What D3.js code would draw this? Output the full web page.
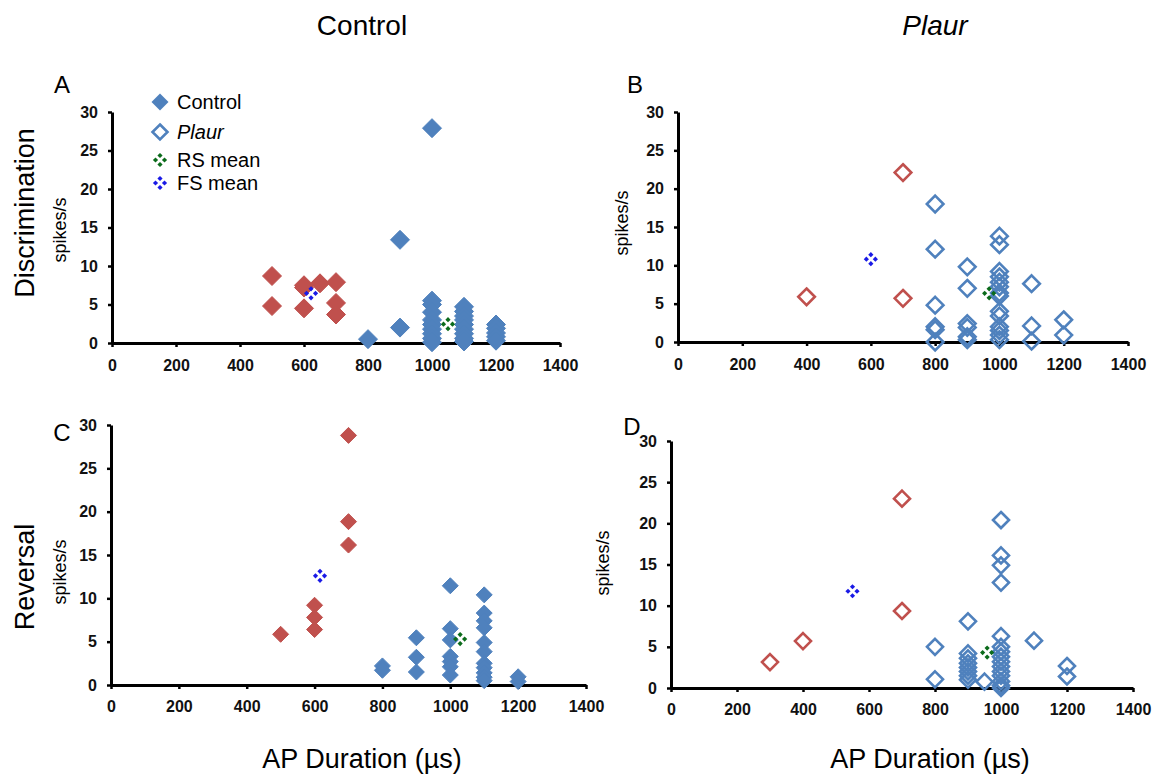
<!DOCTYPE html>
<html>
<head>
<meta charset="utf-8">
<script src="https://cdn.jsdelivr.net/npm/d3@7"></script>
<style>
  body { margin: 0; background: #fff; }
  text { font-family: "Liberation Sans", Arial, sans-serif; }
</style>
</head>
<body>
<div class="fig"></div>
<script>
// ---- data: [AP duration (µs), spikes/s] ----
// A: Control, Discrimination
const aFS = [[500,8.7],[500,4.8],[600,7.5],[600,7.2],[600,4.5],[650,7.75],[700,7.9],[700,5.2],[700,3.7]];
const aRS = [[800,0.5],[900,13.4],[900,2.0],[1000,27.9],[1000,5.5],[1000,5.0],[1000,4.0],[1000,3.0],[1000,2.4],
  [1000,1.8],[1000,1.2],[1000,0.6],[1000,0.1],[1100,4.7],[1100,4.1],[1100,3.5],[1100,3.0],[1100,2.4],[1100,1.8],
  [1100,1.2],[1100,0.6],[1100,0.2],[1200,2.4],[1200,1.9],[1200,1.3],[1200,0.8],[1200,0.3]];
const aMeanRS = [1050, 2.45], aMeanFS = [622, 6.45];

// B: Plaur, Discrimination
const bFS = [[400,5.9],[700,22.1],[700,5.7]];
const bRS = [[800,18],[800,12.1],[800,4.8],[800,2.0],[800,1.6],[800,0],[900,9.8],[900,7.0],[900,2.4],[900,1.9],
  [900,0.7],[900,0.3],[1000,13.8],[1000,12.7],[1000,9.2],[1000,8.5],[1000,7.8],[1000,7.2],[1000,6.4],[1000,6.0],
  [1000,4.0],[1000,3.4],[1000,2.0],[1000,1.5],[1000,0.9],[1000,0.3],[1100,7.6],[1100,2.1],[1100,0.1],[1200,2.9],[1200,0.9]];
const bMeanRS = [968, 6.35], bMeanFS = [600, 10.8];

// C: Control, Reversal
const cFS = [[500,5.85],[600,9.2],[600,7.8],[600,6.4],[700,28.8],[700,18.85],[700,16.15]];
const cRS = [[800,2.2],[800,1.7],[900,5.45],[900,3.2],[900,1.5],[1000,11.45],[1000,6.5],[1000,5.2],[1000,3.3],
  [1000,2.7],[1000,2.1],[1000,1.15],[1100,10.4],[1100,8.3],[1100,7.4],[1100,6.6],[1100,4.9],[1100,3.85],[1100,2.5],
  [1100,2.0],[1100,1.4],[1100,0.9],[1100,0.5],[1200,0.95],[1200,0.4]];
const cMeanRS = [1029, 5.3], cMeanFS = [616, 12.6];

// D: Plaur, Reversal
const dFS = [[300,3.15],[400,5.7],[700,23.0],[700,9.35]];
const dRS = [[800,5.0],[800,1.05],[900,8.1],[900,4.2],[900,3.6],[900,3.0],[900,2.5],[900,2.0],[900,1.5],[900,1.0],
  [950,0.77],[1000,20.4],[1000,16.1],[1000,14.9],[1000,12.8],[1000,6.3],[1000,5.0],[1000,4.4],[1000,3.8],[1000,3.2],
  [1000,2.6],[1000,2.0],[1000,1.5],[1000,0.8],[1000,0.3],[1000,0],[1100,5.75],[1200,2.67],[1200,1.4]];
const dMeanRS = [958, 4.3], dMeanFS = [550, 11.75];

const xTicks = [0,200,400,600,800,1000,1200,1400];
const yTicks = [0,5,10,15,20,25,30];
const legendLabels = ["Control", "Plaur", "RS mean", "FS mean"];

const BLUE = "#4f81bd", RED = "#c0504d", GREEN = "#0b6b1b", FSBLUE = "#1a1ae6";

const svg = d3.select(".fig").append("svg")
    .attr("width", 1161).attr("height", 777);

const diamond = r => `M0,${-r}L${r},0L0,${r}L${-r},0Z`;

function meanMark(g, x, y, color){
    const m = g.append("g").attr("transform", `translate(${x},${y})`);
    [[0,-4.5],[4.5,0],[0,4.5],[-4.5,0]].forEach(o => {
        m.append("path").attr("d", diamond(2.6))
            .attr("transform", `translate(${o[0]},${o[1]})`)
            .attr("fill", color);
    });
}

function panel(p){
    const g = svg.append("g");
    const x = d3.scaleLinear().domain([0,1400]).range([p.x0, p.x1]);
    const y = d3.scaleLinear().domain([0,30]).range([p.y1, p.y0]);

    const yAxis = g.append("g").attr("transform", `translate(${p.x0},0)`)
        .call(d3.axisLeft(y).tickValues(yTicks).tickFormat(d3.format("d"))
            .tickSize(4).tickPadding(10).tickSizeOuter(0));
    const xAxis = g.append("g").attr("transform", `translate(0,${p.y1})`)
        .call(d3.axisBottom(x).tickValues(xTicks).tickFormat(d3.format("d"))
            .tickSize(4).tickPadding(p.xPad).tickSizeOuter(0));
    [yAxis, xAxis].forEach(a => {
        a.select(".domain").attr("stroke", "#000").attr("stroke-width", 3);
        a.selectAll(".tick line").attr("stroke", "#000").attr("stroke-width", 2.5);
        a.selectAll(".tick text").attr("fill", "#111").attr("font-size", 16)
            .attr("font-weight", "bold").attr("font-family", "Liberation Sans, Arial, sans-serif");
    });

    const drawSet = (data, color) => {
        g.selectAll(null).data(data).enter().append("path")
            .attr("d", diamond(p.r))
            .attr("transform", d => `translate(${x(d[0])},${y(d[1])})`)
            .attr("fill", p.hollow ? "none" : color)
            .attr("stroke", color)
            .attr("stroke-width", p.hollow ? 2.6 : 1);
    };
    drawSet(p.rs, BLUE);
    drawSet(p.fs, RED);
    meanMark(g, x(p.meanRS[0]), y(p.meanRS[1]), GREEN);
    meanMark(g, x(p.meanFS[0]), y(p.meanFS[1]), FSBLUE);

    g.append("text").attr("x", p.lx).attr("y", p.ly).attr("font-size", 24)
        .attr("text-anchor", "middle").text(p.letter);
    g.append("text").attr("transform", `translate(${p.sx},${p.sy}) rotate(-90)`)
        .attr("font-size", 18).attr("text-anchor", "middle")
        .attr("dominant-baseline", "central").text("spikes/s");
}

panel({letter:"A", x0:112, x1:560, y0:112, y1:343, r:9.5, hollow:false, xPad:13,
    fs:aFS, rs:aRS, meanRS:aMeanRS, meanFS:aMeanFS, lx:62, ly:93, sx:60, sy:230});
panel({letter:"B", x0:678, x1:1128, y0:112, y1:342, r:8.3, hollow:true, xPad:13,
    fs:bFS, rs:bRS, meanRS:bMeanRS, meanFS:bMeanFS, lx:635, ly:93, sx:622, sy:223});
panel({letter:"C", x0:111, x1:586, y0:425, y1:685, r:8, hollow:false, xPad:12,
    fs:cFS, rs:cRS, meanRS:cMeanRS, meanFS:cMeanFS, lx:62, ly:441, sx:60, sy:572});
panel({letter:"D", x0:671, x1:1133, y0:441, y1:688, r:8, hollow:true, xPad:12,
    fs:dFS, rs:dRS, meanRS:dMeanRS, meanFS:dMeanFS, lx:632, ly:435, sx:603, sy:563});

// legend (panel A)
const leg = svg.append("g");
const legY = [102, 132, 160, 183];
leg.append("path").attr("d", diamond(8.5)).attr("transform", `translate(160,${legY[0]})`).attr("fill", BLUE);
leg.append("path").attr("d", diamond(7.5)).attr("transform", `translate(160,${legY[1]})`)
    .attr("fill", "none").attr("stroke", BLUE).attr("stroke-width", 2.6);
meanMark(leg, 160, legY[2], GREEN);
meanMark(leg, 160, legY[3], FSBLUE);
legendLabels.forEach((t, i) => {
    leg.append("text").attr("x", 177).attr("y", legY[i]).attr("dominant-baseline", "central")
        .attr("font-size", 20).attr("font-style", i === 1 ? "italic" : "normal").text(t);
});

// titles
svg.append("text").attr("x", 362).attr("y", 35).attr("text-anchor", "middle").attr("font-size", 28).text("Control");
svg.append("text").attr("x", 935).attr("y", 35).attr("text-anchor", "middle").attr("font-size", 28)
    .attr("font-style", "italic").text("Plaur");
svg.append("text").attr("transform", "translate(25,213) rotate(-90)").attr("text-anchor", "middle")
    .attr("dominant-baseline", "central").attr("font-size", 27).text("Discrimination");
svg.append("text").attr("transform", "translate(25,577) rotate(-90)").attr("text-anchor", "middle")
    .attr("dominant-baseline", "central").attr("font-size", 27).text("Reversal");
svg.append("text").attr("x", 362).attr("y", 768).attr("text-anchor", "middle").attr("font-size", 27).text("AP Duration (µs)");
svg.append("text").attr("x", 930).attr("y", 768).attr("text-anchor", "middle").attr("font-size", 27).text("AP Duration (µs)");
</script>
</body>
</html>
